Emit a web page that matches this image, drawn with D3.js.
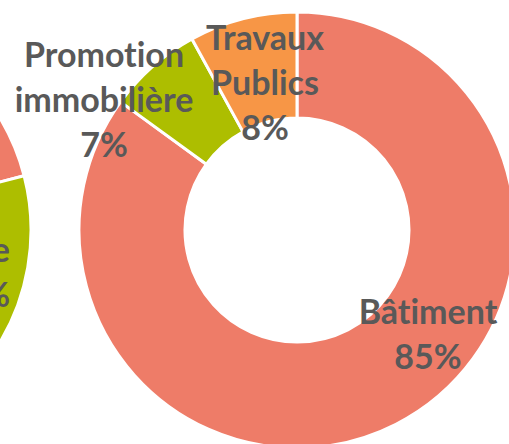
<!DOCTYPE html>
<meta charset="utf-8">
<title>Répartition par activité</title>
<script src="https://d3js.org/d3.v7.min.js"></script>
<style>
  body { margin: 0; background: #fff; }
  text { font-family: Lato, "Open Sans", sans-serif; font-weight: bold; fill: #595959;
         font-variant-ligatures: none; font-feature-settings: "liga" 0; }
</style>
<body>
<div id="chart"></div>
<script>
// categories and shares (right donut fully visible, left one cut by the frame)
categories = ["Bâtiment", "Promotion immobilière", "Travaux Publics"]
valuesRight = [85, 7, 8]
valuesLeft = [21, 57, 22]
labelsRight = [["Bâtiment", "85%"], ["Promotion", "immobilière", "7%"], ["Travaux", "Publics", "8%"]]
labelsLeft = [["Bâtiment", "21%"], ["immobilière", "57%"], ["Travaux", "Publics", "22%"]]

colors = ["#EE7C68", "#ADBE00", "#F79646"]
width = 509
height = 444
outer = 218
inner = 112
lineH = 45

svg = d3.select("#chart").append("svg")
    .attr("width", width)
    .attr("height", height)

color = d3.scaleOrdinal().domain(categories).range(colors)
pie = d3.pie().sort(null)
arc = d3.arc().innerRadius(inner).outerRadius(outer)

function donut(cx, cy, values, labels, labelPos) {
  const g = svg.append("g").attr("transform", `translate(${cx},${cy})`)
  g.selectAll("path")
    .data(pie(values))
    .join("path")
      .attr("d", arc)
      .attr("fill", (d, i) => color(categories[i]))
      .attr("stroke", "#fff")
      .attr("stroke-width", 3)
      .attr("stroke-linejoin", "round")
  labels.forEach((lines, i) => {
    const p = labelPos[i]
    const t = g.append("text")
        .attr("font-size", 34)
        .attr("text-anchor", p.anchor || "middle")
    lines.forEach((s, j) => t.append("tspan")
        .attr("x", p.dx)
        .attr("y", p.dy + j * lineH)
        .text(s))
  })
}

// label anchors relative to each donut centre (first baseline)
donut(297, 230, valuesRight, labelsRight, [
  {dx: 131, dy: 94},
  {dx: -193, dy: -163},
  {dx: -32, dy: -180}
])
donut(-187, 230, valuesLeft, labelsLeft, [
  {dx: 60, dy: -140, anchor: "end"},
  {dx: 197, dy: 32, anchor: "end"},
  {dx: -120, dy: -120}
])
</script>
</body>
